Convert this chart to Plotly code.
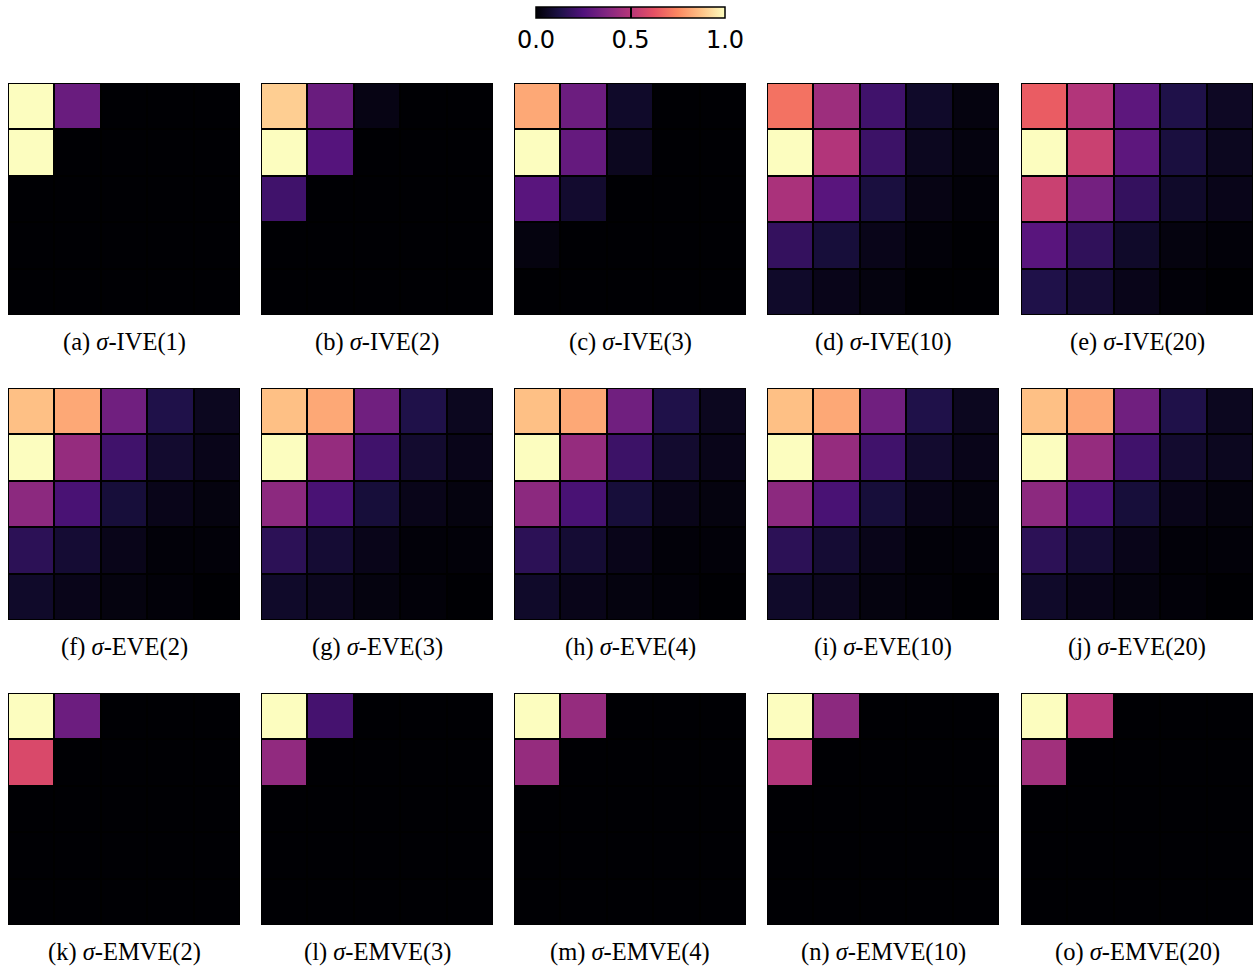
import plotly.graph_objects as go

# ---------------- data ----------------
captions = [
    "(a) <i>σ</i>-IVE(1)", "(b) <i>σ</i>-IVE(2)", "(c) <i>σ</i>-IVE(3)", "(d) <i>σ</i>-IVE(10)", "(e) <i>σ</i>-IVE(20)",
    "(f) <i>σ</i>-EVE(2)", "(g) <i>σ</i>-EVE(3)", "(h) <i>σ</i>-EVE(4)", "(i) <i>σ</i>-EVE(10)", "(j) <i>σ</i>-EVE(20)",
    "(k) <i>σ</i>-EMVE(2)", "(l) <i>σ</i>-EMVE(3)", "(m) <i>σ</i>-EMVE(4)", "(n) <i>σ</i>-EMVE(10)", "(o) <i>σ</i>-EMVE(20)",
]

ive_1 = [[1.00, 0.31, 0.00, 0.00, 0.00],
         [1.00, 0.00, 0.00, 0.00, 0.00],
         [0.00, 0.00, 0.00, 0.00, 0.00],
         [0.00, 0.00, 0.00, 0.00, 0.00],
         [0.00, 0.00, 0.00, 0.00, 0.00]]
ive_2 = [[0.90, 0.31, 0.03, 0.00, 0.00],
         [1.00, 0.26, 0.00, 0.00, 0.00],
         [0.21, 0.00, 0.00, 0.00, 0.00],
         [0.00, 0.00, 0.00, 0.00, 0.00],
         [0.00, 0.00, 0.00, 0.00, 0.00]]
ive_3 = [[0.82, 0.32, 0.07, 0.00, 0.00],
         [1.00, 0.30, 0.05, 0.00, 0.00],
         [0.27, 0.08, 0.00, 0.00, 0.00],
         [0.02, 0.00, 0.00, 0.00, 0.00],
         [0.00, 0.00, 0.00, 0.00, 0.00]]
ive_10 = [[0.70, 0.44, 0.21, 0.07, 0.02],
          [1.00, 0.49, 0.20, 0.05, 0.02],
          [0.47, 0.27, 0.11, 0.03, 0.01],
          [0.18, 0.10, 0.04, 0.01, 0.00],
          [0.07, 0.04, 0.02, 0.00, 0.00]]
ive_20 = [[0.65, 0.49, 0.28, 0.13, 0.06],
          [1.00, 0.55, 0.28, 0.11, 0.05],
          [0.55, 0.34, 0.18, 0.07, 0.04],
          [0.27, 0.17, 0.07, 0.02, 0.01],
          [0.13, 0.09, 0.04, 0.01, 0.00]]

eve_2 = [[0.87, 0.82, 0.33, 0.13, 0.05],
         [1.00, 0.42, 0.21, 0.08, 0.04],
         [0.40, 0.23, 0.10, 0.04, 0.02],
         [0.16, 0.09, 0.04, 0.01, 0.01],
         [0.07, 0.04, 0.02, 0.01, 0.00]]
eve_3 = [[0.87, 0.82, 0.33, 0.13, 0.05],
         [1.00, 0.42, 0.21, 0.08, 0.04],
         [0.40, 0.23, 0.10, 0.04, 0.02],
         [0.16, 0.09, 0.04, 0.01, 0.01],
         [0.07, 0.05, 0.02, 0.01, 0.00]]
eve_4 = [[0.87, 0.82, 0.33, 0.13, 0.05],
         [1.00, 0.42, 0.20, 0.08, 0.04],
         [0.40, 0.23, 0.10, 0.04, 0.02],
         [0.16, 0.09, 0.04, 0.01, 0.01],
         [0.07, 0.04, 0.02, 0.01, 0.00]]
eve_10 = [[0.87, 0.82, 0.33, 0.13, 0.05],
          [1.00, 0.42, 0.21, 0.08, 0.04],
          [0.40, 0.23, 0.10, 0.04, 0.02],
          [0.16, 0.09, 0.04, 0.01, 0.01],
          [0.07, 0.05, 0.02, 0.01, 0.00]]
eve_20 = [[0.87, 0.82, 0.33, 0.13, 0.05],
          [1.00, 0.42, 0.21, 0.08, 0.05],
          [0.40, 0.23, 0.10, 0.04, 0.02],
          [0.16, 0.09, 0.04, 0.01, 0.01],
          [0.07, 0.04, 0.02, 0.01, 0.00]]

emve_2 = [[1.00, 0.32, 0.00, 0.00, 0.00],
          [0.59, 0.00, 0.00, 0.00, 0.00],
          [0.00, 0.00, 0.00, 0.00, 0.00],
          [0.00, 0.00, 0.00, 0.00, 0.00],
          [0.00, 0.00, 0.00, 0.00, 0.00]]
emve_3 = [[1.00, 0.22, 0.00, 0.00, 0.00],
          [0.41, 0.00, 0.00, 0.00, 0.00],
          [0.00, 0.00, 0.00, 0.00, 0.00],
          [0.00, 0.00, 0.00, 0.00, 0.00],
          [0.00, 0.00, 0.00, 0.00, 0.00]]
emve_4 = [[1.00, 0.42, 0.00, 0.00, 0.00],
          [0.42, 0.00, 0.00, 0.00, 0.00],
          [0.00, 0.00, 0.00, 0.00, 0.00],
          [0.00, 0.00, 0.00, 0.00, 0.00],
          [0.00, 0.00, 0.00, 0.00, 0.00]]
emve_10 = [[1.00, 0.40, 0.00, 0.00, 0.00],
           [0.49, 0.00, 0.00, 0.00, 0.00],
           [0.00, 0.00, 0.00, 0.00, 0.00],
           [0.00, 0.00, 0.00, 0.00, 0.00],
           [0.00, 0.00, 0.00, 0.00, 0.00]]
emve_20 = [[1.00, 0.50, 0.00, 0.00, 0.00],
           [0.45, 0.00, 0.00, 0.00, 0.00],
           [0.00, 0.00, 0.00, 0.00, 0.00],
           [0.00, 0.00, 0.00, 0.00, 0.00],
           [0.00, 0.00, 0.00, 0.00, 0.00]]

matrices = [ive_1, ive_2, ive_3, ive_10, ive_20,
            eve_2, eve_3, eve_4, eve_10, eve_20,
            emve_2, emve_3, emve_4, emve_10, emve_20]

cb_ticks = [0.0, 0.5, 1.0]
cb_ticklabels = ["0.0", "0.5", "1.0"]

magma = [[0.0, "#000004"], [0.125, "#1d1147"], [0.25, "#51127c"], [0.375, "#822681"],
         [0.5, "#b63679"], [0.625, "#e65164"], [0.75, "#fb8861"], [0.875, "#fec287"],
         [1.0, "#fcfdbf"]]

# ---------------- layout geometry (pixels, page coords) ----------------
W, H = 1253, 969
x_starts = [8, 261, 514, 767, 1021]
y_starts = [83, 388, 693]
size = 232
caption_offset = 27  # from bottom of panel to caption centre


def px_x(v):
    return v / W


def px_y(v):
    return 1 - v / H


fig = go.Figure()
layout_axes = {}
annotations = []
for idx, z in enumerate(matrices):
    r, c = divmod(idx, 5)
    n = idx + 1
    xa = "x" if n == 1 else f"x{n}"
    ya = "y" if n == 1 else f"y{n}"
    fig.add_trace(go.Heatmap(
        z=z, x=list(range(5)), y=list(range(5)),
        coloraxis="coloraxis", xgap=2, ygap=2,
        xaxis=xa, yaxis=ya, hoverinfo="skip",
    ))
    key_x = "xaxis" if n == 1 else f"xaxis{n}"
    key_y = "yaxis" if n == 1 else f"yaxis{n}"
    layout_axes[key_x] = dict(domain=[px_x(x_starts[c]), min(1, px_x(x_starts[c] + size))],
                              visible=False, range=[-0.5, 4.5], anchor=ya, fixedrange=True)
    layout_axes[key_y] = dict(domain=[px_y(y_starts[r] + size), px_y(y_starts[r])],
                              visible=False, range=[4.5, -0.5], anchor=xa, fixedrange=True)
    annotations.append(dict(
        text=captions[idx], xref="paper", yref="paper",
        x=px_x(x_starts[c] + size / 2),
        y=px_y(y_starts[r] + size + caption_offset),
        xanchor="center", yanchor="middle", showarrow=False,
        font=dict(family="Liberation Serif", size=24.5, color="black"),
    ))

fig.update_layout(
    width=W, height=H,
    margin=dict(l=0, r=0, t=0, b=0),
    paper_bgcolor="white",
    plot_bgcolor="black",
    showlegend=False,
    annotations=annotations,
    coloraxis=dict(
        colorscale=magma, cmin=0, cmax=1,
        colorbar=dict(
            orientation="h",
            x=px_x(630.5), xanchor="center",
            y=px_y(7), yanchor="top",
            lenmode="pixels", len=189,
            thicknessmode="pixels", thickness=11,
            outlinecolor="black", outlinewidth=1.5,
            tickvals=cb_ticks, ticktext=cb_ticklabels,
            ticks="inside", ticklen=11, tickcolor="black", tickwidth=1.5,
            tickfont=dict(family="DejaVu Sans", size=24, color="black"),
            xpad=0, ypad=0,
        ),
    ),
    **layout_axes,
)

# remove the browser's default page margin so the figure sits at the window origin
fig.write_html("out.html", config={"displayModeBar": False},
               post_script="document.body.style.margin='0';")
